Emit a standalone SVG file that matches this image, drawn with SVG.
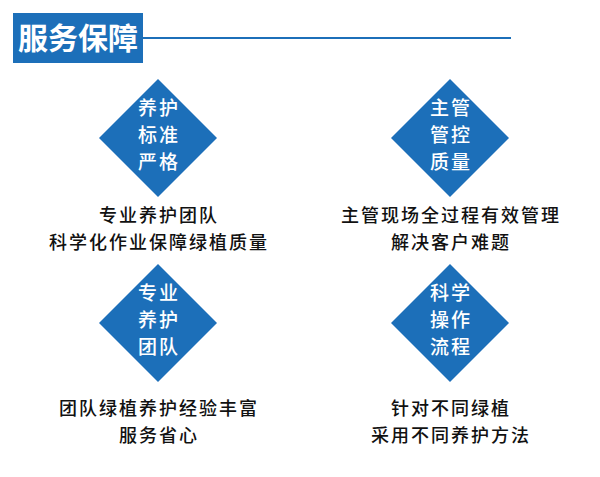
<svg xmlns="http://www.w3.org/2000/svg" width="600" height="477" viewBox="0 0 600 477">
<style>
.d{fill:#1c6fb9}
.w{fill:#fff;font-family:"Noto Sans CJK SC",sans-serif;font-size:19px;font-weight:500;text-anchor:middle;letter-spacing:2px}
.c{fill:#111;font-family:"Noto Sans CJK SC",sans-serif;font-size:18px;font-weight:500;text-anchor:middle;letter-spacing:2px}
</style>
<rect width="600" height="477" fill="#fff"/>
<g id="header">
<rect x="13" y="13" width="130" height="50" fill="#1c6fb9"/>
<text x="78" y="49" fill="#fff" font-family="Noto Sans CJK SC,sans-serif" font-size="30" font-weight="bold" text-anchor="middle">服务保障</text>
<line x1="143" y1="38" x2="511" y2="38" stroke="#1c6fb9" stroke-width="2"/>
</g>
<g id="connectors"/>
<g id="n1">
<polygon class="d" points="158,79 217,138 158,197 99,138"/>
<text class="w" x="159" y="115">养护</text><text class="w" x="159" y="142">标准</text><text class="w" x="159" y="169">严格</text>
<text class="c" x="159" y="222">专业养护团队</text><text class="c" x="159" y="249">科学化作业保障绿植质量</text>
</g>
<g id="n2">
<polygon class="d" points="450,79 509,138 450,197 391,138"/>
<text class="w" x="451" y="115">主管</text><text class="w" x="451" y="142">管控</text><text class="w" x="451" y="169">质量</text>
<text class="c" x="451" y="222">主管现场全过程有效管理</text><text class="c" x="451" y="249">解决客户难题</text>
</g>
<g id="n3">
<polygon class="d" points="158,264 217,323 158,382 99,323"/>
<text class="w" x="159" y="300">专业</text><text class="w" x="159" y="327">养护</text><text class="w" x="159" y="354">团队</text>
<text class="c" x="159" y="415">团队绿植养护经验丰富</text><text class="c" x="159" y="442">服务省心</text>
</g>
<g id="n4">
<polygon class="d" points="450,264 509,323 450,382 391,323"/>
<text class="w" x="451" y="300">科学</text><text class="w" x="451" y="327">操作</text><text class="w" x="451" y="354">流程</text>
<text class="c" x="451" y="415">针对不同绿植</text><text class="c" x="451" y="442">采用不同养护方法</text>
</g>
</svg>
